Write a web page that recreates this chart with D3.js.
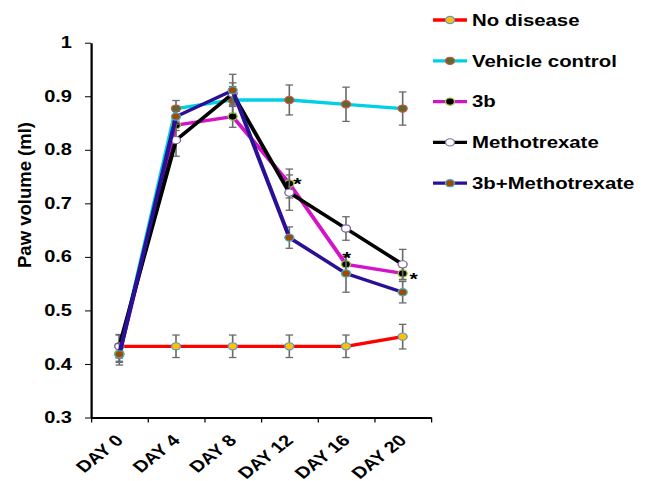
<!DOCTYPE html>
<html>
<head>
<meta charset="utf-8">
<script src="https://cdn.jsdelivr.net/npm/d3@7"></script>
<style>
  body { margin: 0; background: #fff; }
  text { font-family: "Liberation Sans", Arial, sans-serif; }
</style>
</head>
<body>
<div id="chart"></div>
<script>
// chart values
const days = ['DAY 0', 'DAY 4', 'DAY 8', 'DAY 12', 'DAY 16', 'DAY 20'];
const seriesNames = ['No disease', 'Vehicle control', '3b', 'Methotrexate', '3b+Methotrexate'];

const noDisease     = [0.433, 0.433, 0.433, 0.433, 0.433, 0.451];
const vehicle       = [0.418, 0.877, 0.893, 0.893, 0.885, 0.877];
const cmp3b         = [0.420, 0.846, 0.862, 0.737, 0.586, 0.569];
const methotrexate  = [0.433, 0.818, 0.905, 0.720, 0.653, 0.586];
const combo         = [0.418, 0.862, 0.911, 0.636, 0.569, 0.534];

const noDiseaseErr    = [0.021, 0.021, 0.021, 0.021, 0.021, 0.023];
const vehicleErr      = [0.015, 0.015, 0.025, 0.028, 0.032, 0.031];
const cmp3bErr        = [0.015, 0.010, 0.020, 0.027, 0.015, 0.012];
const methotrexateErr = [0.022, 0.030, 0.020, 0.033, 0.022, 0.028];
const comboErr        = [0.020, 0.010, 0.030, 0.020, 0.035, 0.020];

// days where 3b is marked significant
const starDays = ['DAY 12', 'DAY 16', 'DAY 20'];

const yTicks = [0.3, 0.4, 0.5, 0.6, 0.7, 0.8, 0.9, 1.0];

// the original picture is stretched sideways, so draw in a scaled group
const S = 1.25;
const svgWidth = 650, svgHeight = 481;

const styles = [
  { line: '#ff0000', fill: '#ffc000', edge: '#5b9bd5' },
  { line: '#00d0e6', fill: '#5a6b2a', edge: '#d0504a' },
  { line: '#d412c8', fill: '#000000', edge: '#9acd32' },
  { line: '#000000', fill: '#ffffff', edge: '#8064a2' },
  { line: '#2a1096', fill: '#a04a00', edge: '#4bacc6' }
];

const allValues = [noDisease, vehicle, cmp3b, methotrexate, combo];
const allErrors = [noDiseaseErr, vehicleErr, cmp3bErr, methotrexateErr, comboErr];

const series = seriesNames.map((name, i) => ({
  name,
  style: styles[i],
  points: days.map((d, j) => ({ day: d, v: allValues[i][j], e: allErrors[i][j] }))
}));

const svg = d3.select('#chart')
  .append('svg')
  .attr('width', svgWidth)
  .attr('height', svgHeight);

const root = svg.append('g').attr('transform', `scale(${S},1)`);

// scales (x in un-stretched units)
const x = d3.scaleBand().domain(days).range([91 / S, 431 / S]);
const xEdge = d3.scaleLinear().domain([0, days.length]).range(x.range());
const y = d3.scaleLinear().domain([0.3, 1.0]).range([417.5, 42.7]);
const cx = d => x(d) + x.bandwidth() / 2;

// y axis
const yAxis = root.append('g')
  .attr('transform', `translate(${91 / S},0)`)
  .call(d3.axisLeft(y)
    .tickValues(yTicks)
    .tickFormat(d => d === 1 ? '1' : d.toFixed(1))
    .tickSize(4.8)
    .tickSizeOuter(0)
    .tickPadding(10.4));
yAxis.selectAll('text')
  .attr('font-size', 16)
  .attr('font-weight', 'bold')
  .attr('fill', '#000');
yAxis.select('.domain').attr('stroke-width', 1.8);

// x axis: ticks sit between the days
const xAxis = root.append('g')
  .attr('transform', `translate(0,${y(0.3)})`)
  .call(d3.axisBottom(xEdge)
    .tickValues(d3.range(days.length + 1))
    .tickFormat('')
    .tickSize(5)
    .tickSizeOuter(0));
xAxis.select('.domain').attr('stroke-width', 2);

root.append('g').selectAll('text')
  .data(days)
  .enter()
  .append('text')
  .attr('transform', d => `translate(${cx(d) + 5 / S},${y(0.3) + 24}) rotate(-45)`)
  .attr('text-anchor', 'end')
  .attr('font-size', 16)
  .attr('font-weight', 'bold')
  .text(d => d);

// series: error bars, line, markers
const line = d3.line().x(p => cx(p.day)).y(p => y(p.v));
const cap = 3;

series.forEach(s => {
  const g = root.append('g');

  const bars = g.selectAll('.err')
    .data(s.points)
    .enter()
    .append('g')
    .attr('stroke', '#6b6b6b')
    .attr('stroke-width', 1.3);
  bars.append('line')
    .attr('x1', p => cx(p.day)).attr('x2', p => cx(p.day))
    .attr('y1', p => y(p.v + p.e)).attr('y2', p => y(p.v - p.e));
  bars.append('line')
    .attr('x1', p => cx(p.day) - cap).attr('x2', p => cx(p.day) + cap)
    .attr('y1', p => y(p.v + p.e)).attr('y2', p => y(p.v + p.e));
  bars.append('line')
    .attr('x1', p => cx(p.day) - cap).attr('x2', p => cx(p.day) + cap)
    .attr('y1', p => y(p.v - p.e)).attr('y2', p => y(p.v - p.e));

  g.append('path')
    .datum(s.points)
    .attr('d', line)
    .attr('fill', 'none')
    .attr('stroke', s.style.line)
    .attr('stroke-width', 3.3)
    .attr('stroke-linejoin', 'round');

  g.selectAll('circle')
    .data(s.points)
    .enter()
    .append('circle')
    .attr('cx', p => cx(p.day))
    .attr('cy', p => y(p.v))
    .attr('r', 3.6)
    .attr('fill', s.style.fill)
    .attr('stroke', s.style.edge)
    .attr('stroke-width', 1.1);
});

// significance stars next to the 3b points
const starShift = [[8, 6], [1, 0], [11, 12]];
root.append('g').selectAll('text')
  .data(starDays)
  .enter()
  .append('text')
  .attr('x', (d, i) => cx(d) + starShift[i][0] / S)
  .attr('y', (d, i) => y(cmp3b[days.indexOf(d)]) + starShift[i][1])
  .attr('font-size', 17)
  .attr('font-weight', 'bold')
  .attr('text-anchor', 'middle')
  .text('*');

// legend
const legend = root.append('g')
  .selectAll('g')
  .data(series)
  .enter()
  .append('g')
  .attr('transform', (d, i) => `translate(${433 / S},${20 + i * 40.8})`);
legend.append('line')
  .attr('x1', 0).attr('x2', 34 / S)
  .attr('stroke', d => d.style.line)
  .attr('stroke-width', 3.3);
legend.append('circle')
  .attr('cx', 17 / S)
  .attr('r', 3.6)
  .attr('fill', d => d.style.fill)
  .attr('stroke', d => d.style.edge)
  .attr('stroke-width', 1.1);
legend.append('text')
  .attr('x', 39 / S)
  .attr('y', 5.8)
  .attr('font-size', 16.3)
  .attr('font-weight', 'bold')
  .text(d => d.name);

// y title sits outside the stretched group
svg.append('text')
  .attr('transform', 'translate(31,195) rotate(-90)')
  .attr('text-anchor', 'middle')
  .attr('font-size', 18.5)
  .attr('font-weight', 'bold')
  .text('Paw volume (ml)');
</script>
</body>
</html>
